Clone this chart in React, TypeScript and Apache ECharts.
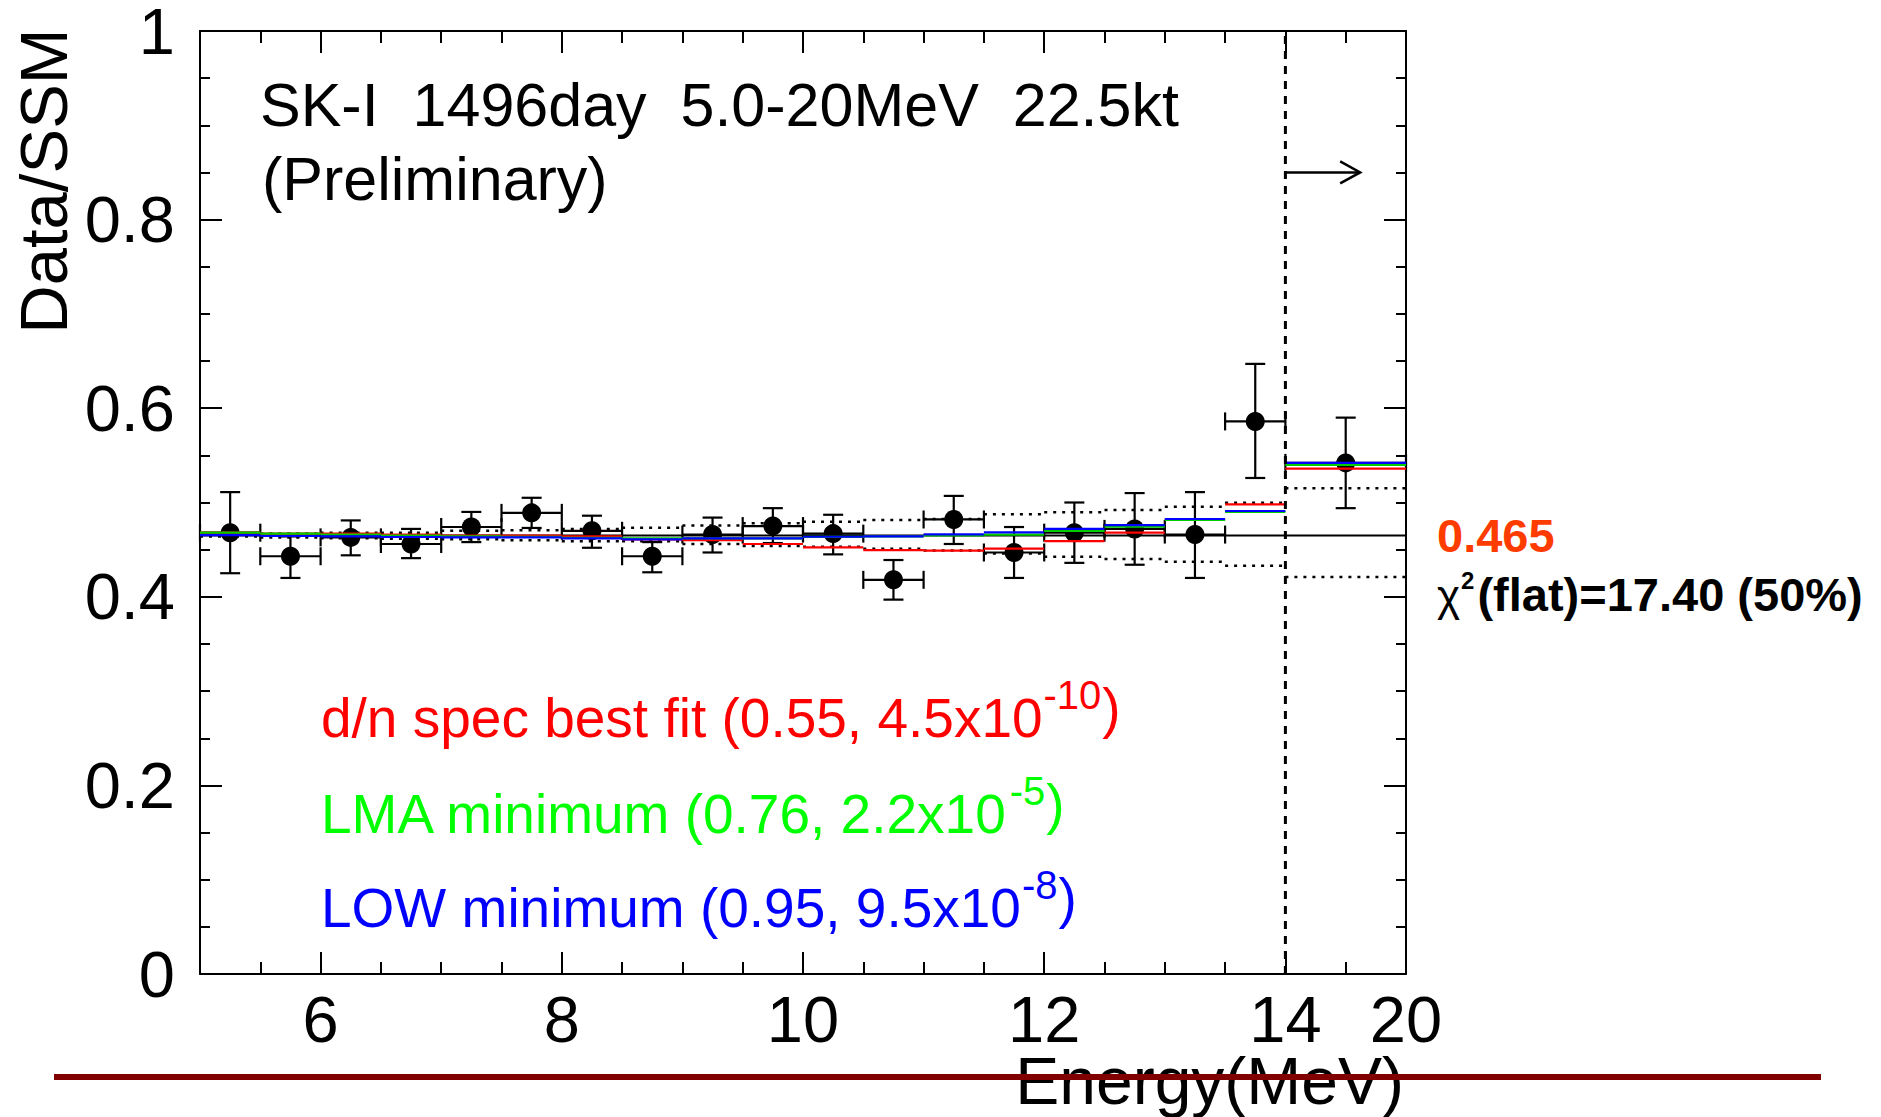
import React, { useEffect, useRef } from 'react';
import * as echarts from 'echarts';

// ---------------- data ----------------
const binEdges = [5, 5.5, 6, 6.5, 7, 7.5, 8, 8.5, 9, 9.5, 10, 10.5, 11, 11.5, 12, 12.5, 13, 13.5, 14, 15];
const energyCenters = [5.25, 5.75, 6.25, 6.75, 7.25, 7.75, 8.25, 8.75, 9.25, 9.75, 10.25, 10.75, 11.25, 11.75, 12.25, 12.75, 13.25, 13.75, 14.5];
const dataRatio = [0.468, 0.443, 0.463, 0.456, 0.474, 0.489, 0.470, 0.443, 0.466, 0.475, 0.467, 0.418, 0.482, 0.447, 0.468, 0.472, 0.466, 0.586, 0.542];
const dataErrHigh = [0.511, 0.464, 0.481, 0.472, 0.490, 0.505, 0.486, 0.458, 0.484, 0.494, 0.487, 0.439, 0.507, 0.474, 0.500, 0.510, 0.511, 0.647, 0.590];
const dataErrLow = [0.425, 0.420, 0.444, 0.441, 0.458, 0.473, 0.452, 0.426, 0.447, 0.457, 0.445, 0.397, 0.456, 0.420, 0.436, 0.434, 0.420, 0.526, 0.494];
const dnBestFit = [0.468, 0.467, 0.467, 0.466, 0.465, 0.465, 0.464, 0.461, 0.460, 0.456, 0.4525, 0.4495, 0.449, 0.451, 0.459, 0.468, 0.482, 0.498, 0.536];
const lmaMinimum = [0.468, 0.467, 0.466, 0.465, 0.464, 0.4635, 0.4625, 0.462, 0.462, 0.462, 0.4635, 0.464, 0.465, 0.466, 0.470, 0.4745, 0.4815, 0.490, 0.540];
const lowMinimum = [0.4655, 0.4645, 0.464, 0.4634, 0.463, 0.463, 0.462, 0.461, 0.462, 0.462, 0.4637, 0.464, 0.4662, 0.4684, 0.472, 0.476, 0.4825, 0.491, 0.542];
const sysBandUpper = [0.467, 0.467, 0.468, 0.468, 0.470, 0.4705, 0.472, 0.4733, 0.4755, 0.478, 0.4797, 0.4814, 0.4825, 0.4875, 0.4896, 0.492, 0.4956, 0.4998, 0.515];
const sysBandLower = [0.464, 0.463, 0.462, 0.4615, 0.461, 0.460, 0.459, 0.459, 0.456, 0.4539, 0.453, 0.451, 0.449, 0.446, 0.4426, 0.440, 0.4373, 0.433, 0.421];
const flatValue = 0.465;
const thresholdEnergy = 14;
const arrowSpan = [14, 14.62, 0.85];
const xMajorTicks = [6, 8, 10, 12, 14];
const xLabelValues = [6, 8, 10, 12, 14, 15];
const xLabelOverride: Record<number, string> = { 15: '20' };

const legendMain = ['d/n spec best fit (0.55, 4.5x10', 'LMA minimum (0.76, 2.2x10', 'LOW minimum (0.95, 9.5x10'];
const legendExp = ['-10', '-5', '-8'];
const legendColors = ['#ff0000', '#00ff00', '#0000ff'];

const FONT = "'Liberation Sans', Arial, Helvetica, sans-serif";
const CENTRAL = 0.3465; // central-baseline offset of the font, as a share of its size

let measureCtx: CanvasRenderingContext2D | null = null;
function measure(text: string, size: number, weight = 'normal') {
  if (!measureCtx) measureCtx = document.createElement('canvas').getContext('2d');
  if (!measureCtx) return text.length * size * 0.55;
  measureCtx.font = `${weight} ${size}px ${FONT}`;
  return measureCtx.measureText(text).width;
}

function segments(values: number[]) {
  return values.map((v, i) => [binEdges[i], binEdges[i + 1], v]);
}

function segmentSeries(name: string, data: number[][], color: string, width: number, dash: number[] | null, z: number) {
  return {
    type: 'custom',
    name,
    xAxisIndex: 0,
    yAxisIndex: 0,
    z,
    silent: true,
    data,
    renderItem: (_p: any, api: any) => {
      const a = api.coord([api.value(0), api.value(2)]);
      const b = api.coord([api.value(1), api.value(2)]);
      return {
        type: 'line',
        shape: { x1: a[0], y1: a[1], x2: b[0], y2: b[1] },
        style: { stroke: color, lineWidth: width, lineDash: dash || undefined, fill: null },
      };
    },
  };
}

// text placed by its baseline (plain text, central baseline in SVG)
function txt(text: string, x: number, baseline: number, size: number, color: string, opts: any = {}) {
  const align = opts.align || 'left';
  return {
    type: 'text',
    x,
    y: opts.center !== undefined ? opts.center : baseline - CENTRAL * size,
    rotation: opts.rotation || 0,
    z: 50,
    silent: true,
    style: {
      text,
      fill: color,
      fontSize: size,
      fontFamily: FONT,
      fontWeight: opts.weight || 'normal',
      lineHeight: opts.lineHeight || undefined,
      align,
      textAlign: align,
      verticalAlign: 'middle',
      textVerticalAlign: 'middle',
    },
  };
}

function legendLine(i: number, x: number, baseline: number) {
  const mainSize = 55;
  const supSize = 40;
  const color = legendColors[i];
  const w1 = measure(legendMain[i], mainSize);
  const w2 = measure(legendExp[i], supSize);
  return [
    txt(legendMain[i], x, baseline, mainSize, color),
    txt(legendExp[i], x + w1 + 1, baseline - 28, supSize, color),
    txt(')', x + w1 + w2 + 2, baseline - 10, mainSize, color),
  ];
}

export default function App() {
  const ref = useRef<HTMLDivElement>(null);

  useEffect(() => {
    if (!ref.current) return;
    const chart = echarts.init(ref.current, undefined, { renderer: 'svg' });

    const tickLine = { color: '#000', width: 2 };
    const axisLine = { show: true, onZero: false, lineStyle: { color: '#000', width: 2 } };

    const xMinor = (position: string) => ({
      type: 'value', position, min: 5, max: 15, interval: 0.5,
      axisLine, axisTick: { show: true, inside: true, length: 12, lineStyle: tickLine },
      axisLabel: { show: false }, splitLine: { show: false },
    });
    const xMajor = (position: string, labels: boolean) => ({
      type: 'value', position, min: 5, max: 15, interval: 1,
      axisLine: { show: false, onZero: false },
      axisTick: { show: true, inside: true, length: 22, customValues: xMajorTicks, lineStyle: tickLine },
      axisLabel: labels
        ? {
            show: true, customValues: xLabelValues, margin: 20, fontSize: 65, lineHeight: 50, color: '#000', fontFamily: FONT,
            showMinLabel: true, showMaxLabel: true,
            formatter: (v: number) => (xLabelOverride[v] !== undefined ? xLabelOverride[v] : (v % 2 === 0 ? String(v) : '')),
          }
        : { show: false },
      splitLine: { show: false },
    });
    const yMinor = (position: string) => ({
      type: 'value', position, min: 0, max: 1, interval: 0.05,
      axisLine, axisTick: { show: true, inside: true, length: 10, lineStyle: tickLine },
      axisLabel: { show: false }, splitLine: { show: false },
    });
    const yMajor = (position: string, labels: boolean) => ({
      type: 'value', position, min: 0, max: 1, interval: 0.2,
      axisLine: { show: false, onZero: false },
      axisTick: { show: true, inside: true, length: 22, lineStyle: tickLine },
      axisLabel: labels
        ? {
            show: true, margin: 25, fontSize: 65, lineHeight: 52, color: '#000', fontFamily: FONT,
            showMinLabel: true, showMaxLabel: true,
            formatter: (v: number) => (Math.abs(v) < 1e-9 ? '0' : Math.abs(v - 1) < 1e-9 ? '1' : v.toFixed(1)),
          }
        : { show: false },
      splitLine: { show: false },
    });

    const errorData = energyCenters.map((x, i) => [x, dataRatio[i], dataErrLow[i], dataErrHigh[i], binEdges[i], binEdges[i + 1]]);

    // chi-square line pieces
    const chiX = 1437;
    const chiBase = 611;
    const chiW = measure('χ', 44);
    const twoW = measure('2', 24, 'bold');

    const option: any = {
      animation: false,
      backgroundColor: '#fff',
      grid: { left: 200, right: 475, top: 31, bottom: 143, containLabel: false, outerBoundsMode: 'none' },
      xAxis: [xMinor('bottom'), xMajor('bottom', true), xMinor('top'), xMajor('top', false)],
      yAxis: [yMinor('left'), yMajor('left', true), yMinor('right'), yMajor('right', false)],
      series: [
        segmentSeries('sys upper', segments(sysBandUpper), '#000', 2.5, [3, 6], 2),
        segmentSeries('sys lower', segments(sysBandLower), '#000', 2.5, [3, 6], 2),
        segmentSeries('flat', [[binEdges[0], binEdges[binEdges.length - 1], flatValue]], '#000', 2, null, 2),
        {
          type: 'custom', name: 'errors', xAxisIndex: 0, yAxisIndex: 0, z: 3, silent: true,
          data: errorData,
          renderItem: (_p: any, api: any) => {
            const x = api.value(0), y = api.value(1), lo = api.value(2), hi = api.value(3), xl = api.value(4), xh = api.value(5);
            const t = api.coord([x, hi]);
            const b = api.coord([x, lo]);
            const l = api.coord([xl, y]);
            const r = api.coord([xh, y]);
            const cw = 10, ch = 9;
            const st = { stroke: '#000', lineWidth: 2.2, fill: null };
            const ln = (x1: number, y1: number, x2: number, y2: number) => ({ type: 'line', shape: { x1, y1, x2, y2 }, style: st });
            return {
              type: 'group',
              children: [
                ln(t[0], t[1], b[0], b[1]),
                ln(t[0] - cw, t[1], t[0] + cw, t[1]),
                ln(b[0] - cw, b[1], b[0] + cw, b[1]),
                ln(l[0], l[1], r[0], r[1]),
                ln(l[0], l[1] - ch, l[0], l[1] + ch),
                ln(r[0], r[1] - ch, r[0], r[1] + ch),
              ],
            };
          },
        },
        {
          type: 'scatter', name: 'data', xAxisIndex: 0, yAxisIndex: 0, z: 4, silent: true,
          symbol: 'circle', symbolSize: 19, itemStyle: { color: '#000', opacity: 1 },
          data: energyCenters.map((x, i) => [x, dataRatio[i]]),
        },
        segmentSeries('d/n best fit', segments(dnBestFit), '#ff0000', 2.2, null, 5),
        segmentSeries('LMA minimum', segments(lmaMinimum), '#00cc00', 2.2, null, 5),
        segmentSeries('LOW minimum', segments(lowMinimum), '#0000ff', 2.2, null, 5),
        {
          type: 'custom', name: 'threshold', xAxisIndex: 0, yAxisIndex: 0, z: 6, silent: true,
          data: [[thresholdEnergy]],
          renderItem: (_p: any, api: any) => {
            const a = api.coord([api.value(0), 0]);
            const b = api.coord([api.value(0), 1]);
            return { type: 'line', shape: { x1: a[0], y1: a[1], x2: b[0], y2: b[1] }, style: { stroke: '#000', lineWidth: 3, lineDash: [8, 7], fill: null } };
          },
        },
        {
          type: 'custom', name: 'arrow', xAxisIndex: 0, yAxisIndex: 0, z: 6, silent: true,
          data: [arrowSpan],
          renderItem: (_p: any, api: any) => {
            const a = api.coord([api.value(0), api.value(2)]);
            const b = api.coord([api.value(1), api.value(2)]);
            const st = { stroke: '#000', lineWidth: 2.5, fill: null };
            return {
              type: 'group',
              children: [
                { type: 'line', shape: { x1: a[0], y1: a[1], x2: b[0], y2: b[1] }, style: st },
                { type: 'polyline', shape: { points: [[b[0] - 20, b[1] - 11], [b[0], b[1]], [b[0] - 20, b[1] + 11]] }, style: st },
              ],
            };
          },
        },
      ],
      graphic: {
        elements: [
          txt('SK-I  1496day  5.0-20MeV  22.5kt', 260, 126, 61, '#000'),
          txt('(Preliminary)', 262, 200, 61, '#000'),
          ...legendLine(0, 321, 737),
          ...legendLine(1, 321, 833),
          ...legendLine(2, 321, 927),
          txt('0.465', 1437, 552, 47, '#ff3c00', { weight: 'bold' }),
          txt('χ', chiX, chiBase, 44, '#000'),
          txt('2', chiX + chiW + 1, chiBase - 22, 24, '#000', { weight: 'bold' }),
          txt('(flat)=17.40 (50%)', chiX + chiW + twoW + 4, chiBase, 47, '#000', { weight: 'bold' }),
          txt('Data/SSM', 43, 0, 67, '#000', { align: 'center', rotation: Math.PI / 2, center: 181 }),
          txt('Energy(MeV)', 1404, 1104, 66, '#000', { align: 'right', lineHeight: 50 }),
          {
            type: 'line', z: 100, silent: true,
            shape: { x1: 54, y1: 1077, x2: 1821, y2: 1077 },
            style: { stroke: '#800000', lineWidth: 6 },
          },
        ],
      },
    };

    chart.setOption(option);
    return () => chart.dispose();
  }, []);

  return <div ref={ref} style={{ position: 'absolute', left: 0, top: 0, width: 1881, height: 1117, background: '#fff' }} />;
}
